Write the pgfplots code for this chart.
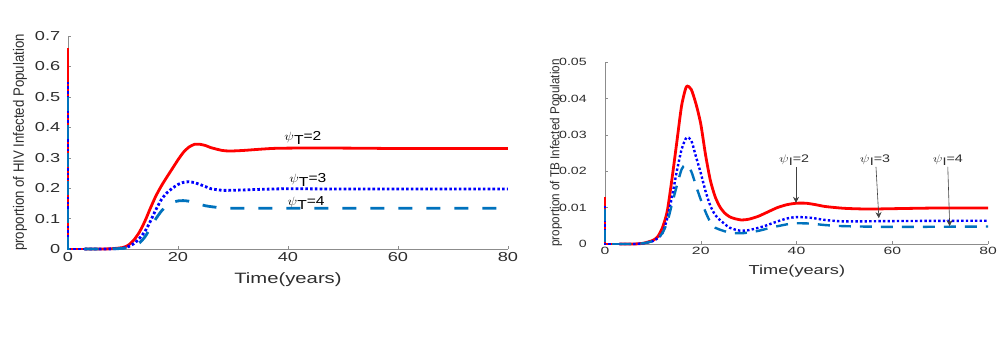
\documentclass[border=0pt]{standalone}
\usepackage{fontspec}
\setmainfont{Liberation Sans}
\usepackage{graphicx}
\usepackage{pgfplots}
\pgfplotsset{compat=1.18}
\usetikzlibrary{arrows.meta}
\definecolor{mred}{rgb}{1,0,0}
\definecolor{mblue}{rgb}{0,0,1}
\definecolor{mlb}{rgb}{0,0.447,0.741}
\definecolor{axgray}{RGB}{140,140,140}
\definecolor{txgray}{RGB}{45,45,45}
\pgfplotsset{
  mstyle/.style={
    scale only axis, xmin=0, xmax=80, ymin=0,
    axis x line*=bottom, axis y line*=left,
    axis line style={axgray,-},
    every outer x axis line/.append style={-},
    every outer y axis line/.append style={-},
    every inner x axis line/.append style={-},
    every inner y axis line/.append style={-},
    tick align=inside, major tick length=3pt, tick style={axgray},
    xtick={0,20,40,60,80},
    /pgf/number format/assume math mode=true,
    scaled y ticks=false,
    clip=false,
  }
}
\begin{document}
\begin{tikzpicture}[x=1pt,y=1pt]
\path[use as bounding box] (0,0) rectangle (1008,358);
% ---------------- left: HIV
\begin{axis}[mstyle, at={(68pt,109pt)}, anchor=south west,
  width=440pt, height=213pt, ymax=0.7,
  ytick={0,0.1,...,0.7},
  yticklabel style={font=\fontsize{13}{13}\selectfont, xscale=1.4, text=txgray, xshift=-2pt},
  xticklabel style={font=\fontsize{13}{13}\selectfont, xscale=1.4, text=txgray},
  xlabel={Time(years)},
  xlabel style={at={(axis description cs:0.5,-0.145)}, anchor=center, font=\fontsize{15}{15}\selectfont, xscale=1.35, text=txgray},
  ylabel={\scalebox{0.88}[1]{proportion of HIV Infected Population}},
  ylabel style={at={(axis description cs:-0.109,0.5)}, anchor=center, font=\fontsize{15}{15}\selectfont, text=txgray},
]
\addplot[mred, line width=2.8pt] coordinates {(0,0.66)(0,0)(3,0)};
\addplot[mred, line width=2.8pt, smooth, tension=0.4] coordinates {
(3,0)(6,0)(8,0.001)(10,0.005)(11,0.013)(12,0.03)(13,0.056)(14,0.092)(15,0.135)(16,0.175)(17,0.208)(18,0.237)(19,0.265)(20,0.293)(21,0.318)(22,0.335)(23,0.344)(24,0.344)(25,0.34)(26,0.333)(28,0.324)(29.5,0.322)(32,0.324)(35,0.328)(38,0.331)(45,0.332)(55,0.331)(60,0.33)(70,0.33)(80,0.33)};
\addplot[mblue, line width=2.8pt, dash pattern=on 2.6pt off 2.2pt] coordinates {(0,0.55)(0,0)(3,0)};
\addplot[mblue, line width=2.8pt, dash pattern=on 2.6pt off 2.2pt, smooth, tension=0.4] coordinates {
(3,0)(6,0)(8,0.0005)(10,0.003)(11,0.008)(12,0.018)(13,0.035)(14,0.058)(15,0.092)(16,0.13)(17,0.163)(18,0.185)(19,0.2)(20,0.212)(21,0.219)(22,0.221)(23,0.218)(24,0.212)(25,0.205)(26,0.198)(28,0.193)(30,0.193)(35,0.196)(40,0.198)(50,0.197)(60,0.197)(80,0.197)};
\addplot[mlb, line width=2.8pt, dash pattern=on 14pt off 14pt] coordinates {(0,0.5)(0,0)(3,0)};
\addplot[mlb, line width=2.8pt, dash pattern=on 14pt off 14pt, smooth, tension=0.4] coordinates {
(3,0)(6,0)(8,0.0005)(10,0.002)(11,0.005)(12,0.01)(13,0.02)(14,0.04)(15,0.07)(16,0.1)(17,0.125)(18,0.143)(19,0.153)(20,0.158)(21,0.159)(22,0.157)(23,0.152)(24,0.147)(25,0.142)(27,0.137)(30,0.134)(40,0.134)(60,0.134)(80,0.134)};
\node[font=\fontsize{13}{13}\selectfont, xscale=1.2] at (axis cs:42.7,0.365) {$\psi$\raisebox{-0.5ex}{T}=2};
\node[font=\fontsize{13}{13}\selectfont, xscale=1.2] at (axis cs:43.6,0.227) {$\psi$\raisebox{-0.5ex}{T}=3};
\node[font=\fontsize{13}{13}\selectfont, xscale=1.2] at (axis cs:43.3,0.151) {$\psi$\raisebox{-0.5ex}{T}=4};
\end{axis}
% ---------------- right: TB
\begin{axis}[mstyle, at={(605pt,114pt)}, anchor=south west,
  width=383pt, height=182pt, ymax=0.05,
  ytick={0,0.01,...,0.05},
  yticklabel style={font=\fontsize{10.5}{10.5}\selectfont, xscale=1.35, text=txgray, xshift=-10pt, /pgf/number format/fixed, /pgf/number format/precision=2},
  xticklabel style={font=\fontsize{10.5}{10.5}\selectfont, xscale=1.5, text=txgray},
  xlabel={Time(years)},
  xlabel style={at={(axis description cs:0.501,-0.148)}, anchor=center, font=\fontsize{13}{13}\selectfont, xscale=1.4, text=txgray},
  ylabel={\scalebox{0.9}[1]{proportion of TB Infected Population}},
  ylabel style={at={(axis description cs:-0.128,0.5)}, anchor=center, font=\fontsize{13}{13}\selectfont, text=txgray},
]
\addplot[mred, line width=2.8pt] coordinates {(0,0.013)(0,0)(3,0)};
\addplot[mred, line width=2.8pt, smooth, tension=0.4] coordinates {
(3,0)(6,0)(8,0.0002)(10,0.001)(11,0.002)(12,0.0045)(13,0.009)(14,0.018)(15,0.028)(16,0.038)(17,0.0432)(18,0.0425)(19,0.0385)(20,0.033)(21,0.0245)(22,0.0175)(23,0.013)(24,0.0102)(25,0.0085)(26,0.0075)(27,0.007)(28.5,0.0066)(30,0.0068)(32,0.0076)(34,0.0088)(36,0.01)(38,0.0108)(40,0.0112)(42,0.0112)(44,0.0108)(46,0.0103)(50,0.0098)(55,0.0096)(60,0.0097)(70,0.0099)(80,0.0099)};
\addplot[mblue, line width=2.4pt, dash pattern=on 2.4pt off 2.2pt] coordinates {(0,0.0105)(0,0)(3,0)};
\addplot[mblue, line width=2.4pt, dash pattern=on 2.4pt off 2.2pt, smooth, tension=0.4] coordinates {
(3,0)(6,0)(8,0.0002)(10,0.0008)(11,0.0016)(12,0.003)(13,0.007)(14,0.013)(15,0.02)(16,0.026)(17,0.0292)(18,0.0285)(19,0.024)(20,0.0195)(21,0.0145)(22,0.0105)(23,0.008)(24,0.0066)(25,0.0055)(26,0.0045)(28,0.0037)(30,0.0038)(33,0.0048)(36,0.0062)(38,0.007)(40,0.0074)(43,0.0072)(46,0.0066)(50,0.0062)(60,0.0063)(80,0.0064)};
\addplot[mlb, line width=2.4pt, dash pattern=on 12pt off 9pt] coordinates {(0,0.0095)(0,0)(3,0)};
\addplot[mlb, line width=2.4pt, dash pattern=on 12pt off 9pt, smooth, tension=0.4] coordinates {
(3,0)(6,0)(8,0.0002)(10,0.0008)(11,0.0016)(12,0.003)(13,0.006)(14,0.011)(15,0.016)(16,0.0205)(16.8,0.0217)(18,0.02)(19,0.016)(20,0.0122)(21,0.0088)(22,0.006)(23,0.0045)(25,0.0035)(27,0.003)(29,0.003)(32,0.0036)(35,0.0046)(38,0.0054)(40,0.0057)(43,0.0056)(46,0.0052)(50,0.0049)(60,0.0047)(80,0.0048)};
\draw[black!75, line width=0.6pt, -{Stealth[length=6pt,width=6pt]}] (axis cs:39.9,0.0212) -- (axis cs:39.9,0.0113);
\draw[black!75, line width=0.6pt, -{Stealth[length=6pt,width=6pt]}] (axis cs:56.6,0.0212) -- (axis cs:57.2,0.0071);
\draw[black!75, line width=0.6pt, -{Stealth[length=6pt,width=6pt]}] (axis cs:71.6,0.0212) -- (axis cs:72.0,0.0049);
\node[font=\fontsize{11}{11}\selectfont, xscale=1.3, text=txgray] at (axis cs:39.5,0.0231) {$\psi$\raisebox{-0.5ex}{I}=2};
\node[font=\fontsize{11}{11}\selectfont, xscale=1.3, text=txgray] at (axis cs:56.4,0.0231) {$\psi$\raisebox{-0.5ex}{I}=3};
\node[font=\fontsize{11}{11}\selectfont, xscale=1.3, text=txgray] at (axis cs:71.6,0.0231) {$\psi$\raisebox{-0.5ex}{I}=4};
\end{axis}
\end{tikzpicture}
\end{document}
